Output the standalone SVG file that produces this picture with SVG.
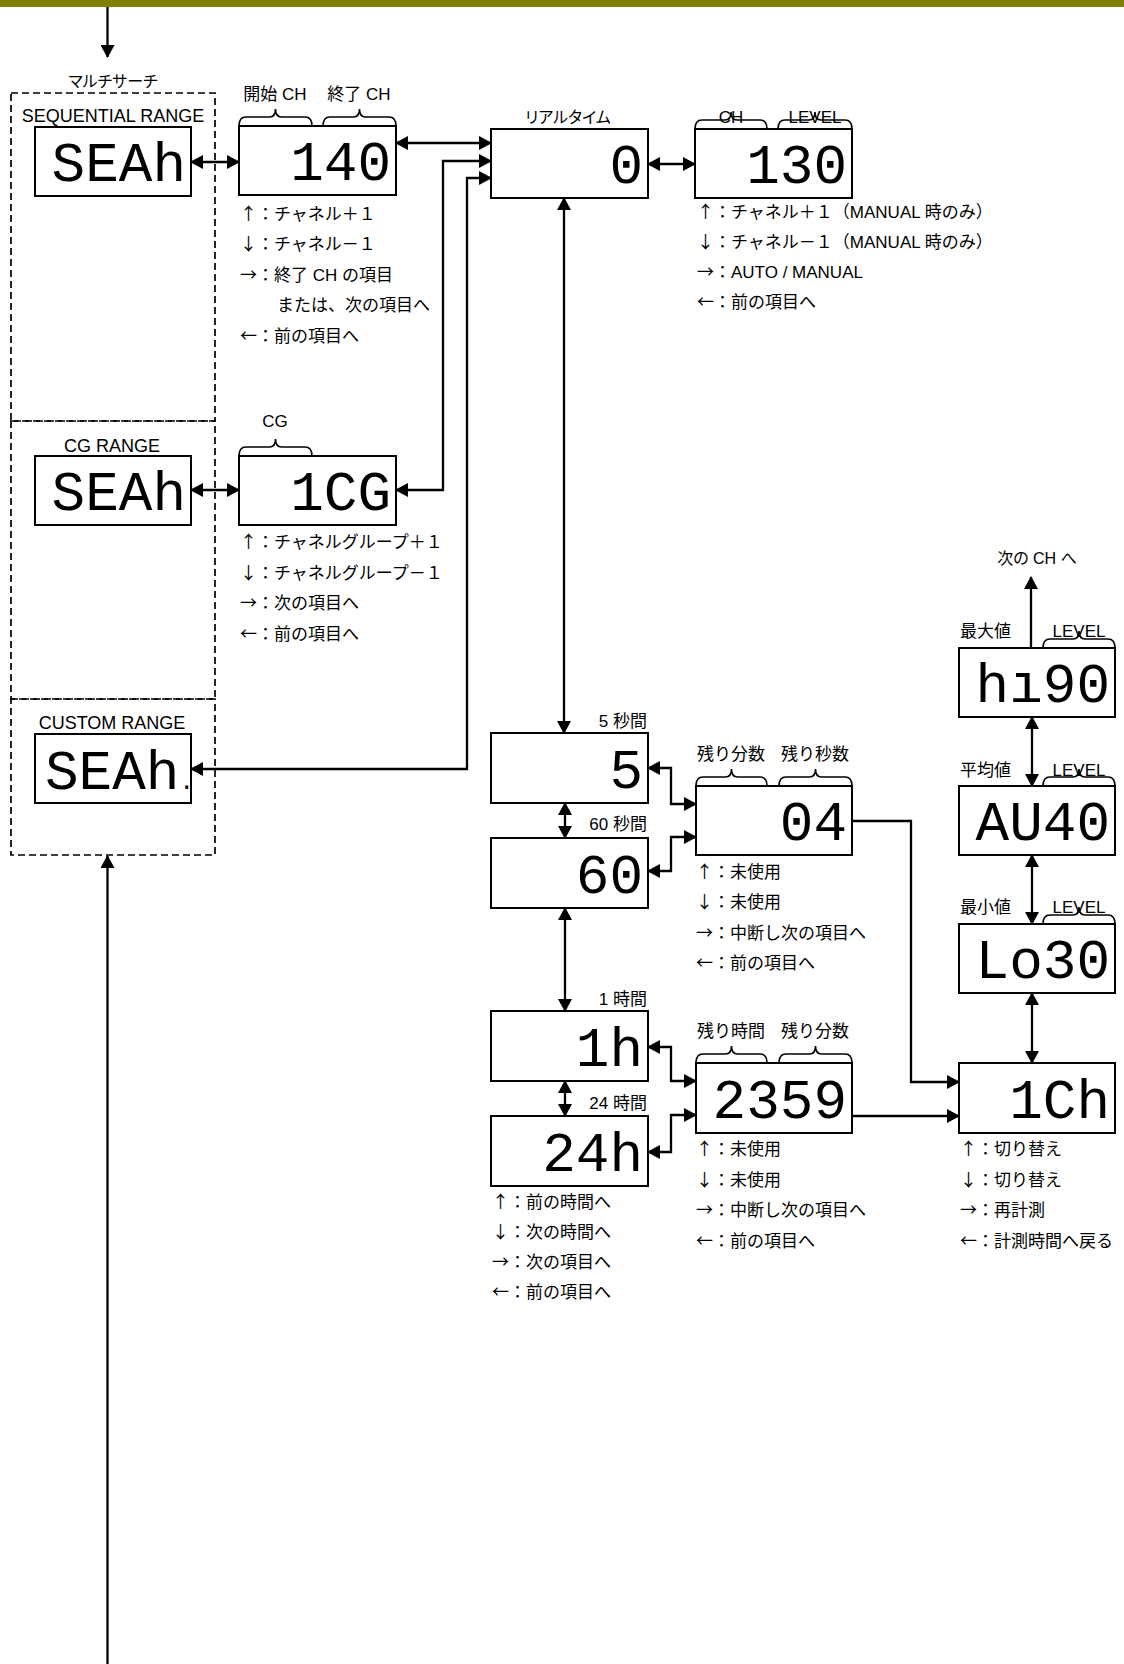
<svg xmlns="http://www.w3.org/2000/svg" width="1124" height="1664" viewBox="0 0 1124 1664">
<style>
text{font-family:"Liberation Sans","Noto Sans CJK JP",sans-serif;fill:#000}
.lb{font-size:17px}
.rg{font-size:18px}
.p{font-size:16px;font-feature-settings:"palt"}
.d{font-size:17px}
.a{font-family:"Noto Sans CJK JP",sans-serif}
.m{text-anchor:middle}
.e{text-anchor:end}
.seg{font-family:"Liberation Mono",monospace;font-size:56px;text-anchor:end}
.box{fill:#fff;stroke:#000;stroke-width:2}
.dash{fill:none;stroke:#000;stroke-width:1.7;stroke-dasharray:7 4}
.br{fill:none;stroke:#000;stroke-width:1.6}
.c{fill:none;stroke:#000;stroke-width:2.3}
.b{marker-start:url(#ah);marker-end:url(#ah)}
.f{marker-end:url(#ah)}
</style>
<defs>
<marker id="ah" viewBox="0 0 13 14" refX="12" refY="7" markerWidth="13" markerHeight="14" markerUnits="userSpaceOnUse" orient="auto-start-reverse"><path d="M0,0 L13,7 L0,14 z" fill="#000"/></marker>
</defs>
<rect x="0" y="0" width="1124" height="7" fill="#808000"/>

<g id="multisearch">
<rect class="dash" x="11" y="93" width="204" height="328"/>
<rect class="dash" x="11" y="421" width="204" height="278"/>
<rect class="dash" x="11" y="699" width="204" height="156"/>
<text class="p m" x="113" y="87">マルチサーチ</text>
</g>

<g id="seq-range">
<text class="rg m" x="113" y="122">SEQUENTIAL RANGE</text>
<rect class="box" x="35" y="127" width="156" height="69"/>
<text class="seg" x="186" y="181">SEAh</text>
</g>

<g id="cg-range">
<text class="rg m" x="112" y="452">CG RANGE</text>
<rect class="box" x="35" y="456" width="156" height="69"/>
<text class="seg" x="186" y="510">SEAh</text>
</g>

<g id="custom-range">
<text class="rg m" x="112" y="729">CUSTOM RANGE</text>
<rect class="box" x="35" y="734" width="156" height="69"/>
<text class="seg" style="text-anchor:start" x="45" y="789">SEAh<tspan style="font-size:24px">.</tspan></text>
</g>

<g id="ch-range">
<text class="lb m" x="275" y="100">開始 CH</text>
<text class="lb m" x="359" y="100">終了 CH</text>
<path class="br" d="M239,126 Q239,117 246,117 L269.5,117 Q275.5,117 275.5,109 Q275.5,117 281.5,117 L305,117 Q312,117 312,126"/>
<path class="br" d="M323,126 Q323,117 330,117 L353.5,117 Q359.5,117 359.5,109 Q359.5,117 365.5,117 L389,117 Q396,117 396,126"/>
<rect class="box" x="239" y="126" width="157" height="69"/>
<text class="seg" x="391" y="180">140</text>
<text class="d" x="240" y="220"><tspan class="a">↑</tspan>：チャネル＋１</text>
<text class="d" x="240" y="250"><tspan class="a">↓</tspan>：チャネル－１</text>
<text class="d" x="240" y="281"><tspan class="a">→</tspan>：終了 CH の項目</text>
<text class="d" x="277" y="311">または、次の項目へ</text>
<text class="d" x="240" y="342"><tspan class="a">←</tspan>：前の項目へ</text>
</g>

<g id="cg-select">
<text class="lb m" x="275" y="427">CG</text>
<path class="br" d="M239,456 Q239,447 246,447 L269.5,447 Q275.5,447 275.5,439 Q275.5,447 281.5,447 L305,447 Q312,447 312,456"/>
<rect class="box" x="239" y="456" width="157" height="69"/>
<text class="seg" x="391" y="510">1CG</text>
<text class="d" x="240" y="548"><tspan class="a">↑</tspan>：チャネルグループ＋１</text>
<text class="d" x="240" y="579"><tspan class="a">↓</tspan>：チャネルグループ－１</text>
<text class="d" x="240" y="609"><tspan class="a">→</tspan>：次の項目へ</text>
<text class="d" x="240" y="640"><tspan class="a">←</tspan>：前の項目へ</text>
</g>

<g id="realtime">
<text class="p m" x="568" y="123">リアルタイム</text>
<rect class="box" x="491" y="129" width="157" height="69"/>
<text class="seg" x="643" y="183">0</text>
</g>

<g id="realtime-level">
<text class="lb m" x="731" y="123">CH</text>
<text class="lb m" x="815" y="123">LEVEL</text>
<path class="br" d="M695,129 Q695,120 702,120 L725,120 Q731,120 731,112 Q731,120 737,120 L760,120 Q767,120 767,129"/>
<path class="br" d="M778,129 Q778,120 785,120 L809,120 Q815,120 815,112 Q815,120 821,120 L845,120 Q852,120 852,129"/>
<rect class="box" x="695" y="129" width="157" height="69"/>
<text class="seg" x="847" y="183">130</text>
<text class="d" x="697" y="218"><tspan class="a">↑</tspan>：チャネル＋１（MANUAL 時のみ）</text>
<text class="d" x="697" y="248"><tspan class="a">↓</tspan>：チャネル－１（MANUAL 時のみ）</text>
<text class="d" x="697" y="278"><tspan class="a">→</tspan>：AUTO / MANUAL</text>
<text class="d" x="697" y="308"><tspan class="a">←</tspan>：前の項目へ</text>
</g>

<g id="t5s">
<text class="lb e" x="647" y="727">5 秒間</text>
<rect class="box" x="491" y="733" width="157" height="70"/>
<text class="seg" x="643" y="788">5</text>
</g>

<g id="t60s">
<text class="lb e" x="647" y="830">60 秒間</text>
<rect class="box" x="491" y="838" width="157" height="70"/>
<text class="seg" x="643" y="893">60</text>
</g>

<g id="remain-ms">
<text class="lb m" x="731" y="760">残り分数</text>
<text class="lb m" x="815" y="760">残り秒数</text>
<path class="br" d="M696,786 Q696,777 703,777 L725.5,777 Q731.5,777 731.5,769 Q731.5,777 737.5,777 L760,777 Q767,777 767,786"/>
<path class="br" d="M779,786 Q779,777 786,777 L809.5,777 Q815.5,777 815.5,769 Q815.5,777 821.5,777 L845,777 Q852,777 852,786"/>
<rect class="box" x="696" y="786" width="156" height="69"/>
<text class="seg" x="847" y="840">04</text>
<text class="d" x="696" y="878"><tspan class="a">↑</tspan>：未使用</text>
<text class="d" x="696" y="908"><tspan class="a">↓</tspan>：未使用</text>
<text class="d" x="696" y="939"><tspan class="a">→</tspan>：中断し次の項目へ</text>
<text class="d" x="696" y="969"><tspan class="a">←</tspan>：前の項目へ</text>
</g>

<g id="t1h">
<text class="lb e" x="647" y="1005">1 時間</text>
<rect class="box" x="491" y="1011" width="157" height="70"/>
<text class="seg" x="643" y="1066">1h</text>
</g>

<g id="t24h">
<text class="lb e" x="647" y="1109">24 時間</text>
<rect class="box" x="491" y="1116" width="157" height="70"/>
<text class="seg" x="643" y="1171">24h</text>
<text class="d" x="492" y="1208"><tspan class="a">↑</tspan>：前の時間へ</text>
<text class="d" x="492" y="1238"><tspan class="a">↓</tspan>：次の時間へ</text>
<text class="d" x="492" y="1268"><tspan class="a">→</tspan>：次の項目へ</text>
<text class="d" x="492" y="1298"><tspan class="a">←</tspan>：前の項目へ</text>
</g>

<g id="remain-hm">
<text class="lb m" x="731" y="1037">残り時間</text>
<text class="lb m" x="815" y="1037">残り分数</text>
<path class="br" d="M696,1063 Q696,1054 703,1054 L725.5,1054 Q731.5,1054 731.5,1046 Q731.5,1054 737.5,1054 L760,1054 Q767,1054 767,1063"/>
<path class="br" d="M779,1063 Q779,1054 786,1054 L809.5,1054 Q815.5,1054 815.5,1046 Q815.5,1054 821.5,1054 L845,1054 Q852,1054 852,1063"/>
<rect class="box" x="696" y="1063" width="156" height="70"/>
<text class="seg" x="847" y="1118">2359</text>
<text class="d" x="696" y="1155"><tspan class="a">↑</tspan>：未使用</text>
<text class="d" x="696" y="1186"><tspan class="a">↓</tspan>：未使用</text>
<text class="d" x="696" y="1216"><tspan class="a">→</tspan>：中断し次の項目へ</text>
<text class="d" x="696" y="1247"><tspan class="a">←</tspan>：前の項目へ</text>
</g>

<g id="next-ch">
<text class="p m" x="1037" y="564">次の CH へ</text>
</g>

<g id="max">
<text class="lb" x="960" y="637">最大値</text>
<text class="lb m" x="1079" y="637">LEVEL</text>
<path class="br" d="M1043,648 Q1043,639 1050,639 L1073,639 Q1079,639 1079,631 Q1079,639 1085,639 L1108,639 Q1115,639 1115,648"/>
<rect class="box" x="959" y="648" width="156" height="69"/>
<text class="seg" x="1110" y="702">hı90</text>
</g>

<g id="avg">
<text class="lb" x="960" y="776">平均値</text>
<text class="lb m" x="1079" y="776">LEVEL</text>
<path class="br" d="M1043,786 Q1043,777 1050,777 L1073,777 Q1079,777 1079,769 Q1079,777 1085,777 L1108,777 Q1115,777 1115,786"/>
<rect class="box" x="959" y="786" width="156" height="69"/>
<text class="seg" x="1110" y="840">AU40</text>
</g>

<g id="min">
<text class="lb" x="960" y="913">最小値</text>
<text class="lb m" x="1079" y="913">LEVEL</text>
<path class="br" d="M1043,924 Q1043,915 1050,915 L1073,915 Q1079,915 1079,907 Q1079,915 1085,915 L1108,915 Q1115,915 1115,924"/>
<rect class="box" x="959" y="924" width="156" height="69"/>
<text class="seg" x="1110" y="978">Lo30</text>
</g>

<g id="ch-result">
<rect class="box" x="959" y="1063" width="156" height="70"/>
<text class="seg" x="1110" y="1118">1Ch</text>
<text class="d" x="960" y="1155"><tspan class="a">↑</tspan>：切り替え</text>
<text class="d" x="960" y="1186"><tspan class="a">↓</tspan>：切り替え</text>
<text class="d" x="960" y="1216"><tspan class="a">→</tspan>：再計測</text>
<text class="d" x="960" y="1247"><tspan class="a">←</tspan>：計測時間へ戻る</text>
</g>

<g id="connectors">
<path class="c f" d="M107.5,7 L107.5,57"/>
<path class="c f" d="M107.5,1664 L107.5,856"/>
<path class="c b" d="M191,162 L239,162"/>
<path class="c b" d="M191,490 L239,490"/>
<path class="c b" d="M396,143 L491,143"/>
<path class="c b" d="M491,161 L443,161 L443,490 L396,490"/>
<path class="c b" d="M491,178 L467,178 L467,769 L191,769"/>
<path class="c b" d="M648,164 L695,164"/>
<path class="c b" d="M564,198 L564,733"/>
<path class="c b" d="M565,803 L565,838"/>
<path class="c b" d="M565,908 L565,1011"/>
<path class="c b" d="M565,1081 L565,1116"/>
<path class="c b" d="M648,768 L671,768 L671,804 L696,804"/>
<path class="c b" d="M648,871 L671,871 L671,837 L696,837"/>
<path class="c b" d="M648,1047 L671,1047 L671,1081 L696,1081"/>
<path class="c b" d="M648,1152 L671,1152 L671,1115 L696,1115"/>
<path class="c f" d="M852,821 L911,821 L911,1082 L959,1082"/>
<path class="c f" d="M852,1116 L959,1116"/>
<path class="c f" d="M1031,648 L1031,577"/>
<path class="c b" d="M1032,717 L1032,786"/>
<path class="c b" d="M1032,855 L1032,924"/>
<path class="c b" d="M1032,993 L1032,1063"/>
</g>
</svg>
